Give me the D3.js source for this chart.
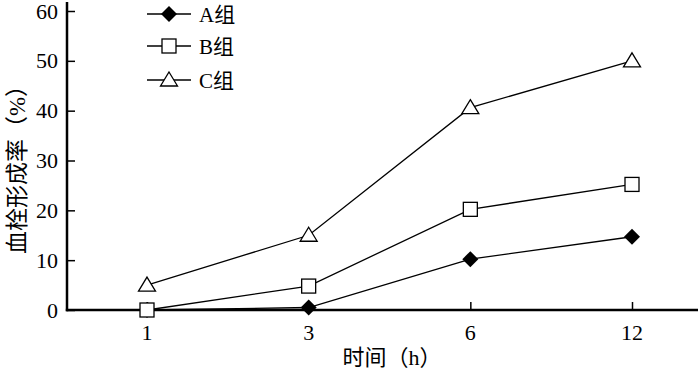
<!DOCTYPE html>
<html><head><meta charset="utf-8">
<script src="https://cdn.jsdelivr.net/npm/d3@7"></script>
<style>body{margin:0;background:#fff}svg{display:block}text{font-family:"Liberation Serif","Noto Sans CJK SC",serif;fill:#000}</style>
</head><body>
<svg id="c" width="700" height="373"></svg>
<script>
const categories = ["1","3","6","12"];
const seriesNames = ["A组","B组","C组"];
const seriesA = [0, 0.5, 10.2, 14.7];
const seriesB = [0, 4.8, 20.2, 25.2];
const seriesC = [5, 15, 40.6, 50];
const yTicks = [0,10,20,30,40,50,60];
const xTitle = "时间（h）";
const yTitle = "血栓形成率（%）";

const svg = d3.select("#c");
const x0 = 67, x1 = 698, yTop = 2, yBot = 310;
const x = d3.scalePoint().domain(categories).range([147, 632]);
const y = d3.scaleLinear().domain([0,60]).range([yBot, 11]);

// axes
const yAx = svg.append("g").attr("transform",`translate(${x0},0)`)
  .call(d3.axisRight(y).tickValues(yTicks).tickSize(8).tickFormat(""));
yAx.select(".domain").remove();
yAx.selectAll("line").attr("stroke","#000").attr("stroke-width",1.5);
svg.append("g").selectAll("text").data(yTicks).join("text")
  .attr("x", x0-9).attr("y", d=>y(d)+7.5).attr("text-anchor","end")
  .attr("font-size",22).text(d=>d);
svg.append("line").attr("x1",x0).attr("x2",x0).attr("y1",yTop).attr("y2",yBot+1.2)
  .attr("stroke","#000").attr("stroke-width",2.5);

const xAx = svg.append("g").attr("transform",`translate(0,${yBot})`)
  .call(d3.axisTop(x).tickSize(8).tickFormat(""));
xAx.select(".domain").remove();
xAx.selectAll("line").attr("stroke","#000").attr("stroke-width",1.5);
svg.append("g").selectAll("text").data(categories).join("text")
  .attr("x", d=>x(d)).attr("y", 340).attr("text-anchor","middle")
  .attr("font-size",22).text(d=>d);
svg.append("line").attr("x1",x0-1.2).attr("x2",x1).attr("y1",yBot).attr("y2",yBot)
  .attr("stroke","#000").attr("stroke-width",2.5);

svg.append("text").attr("x",392).attr("y",365).attr("text-anchor","middle")
  .attr("font-size",22).text(xTitle);
svg.append("text").attr("transform","translate(25,164) rotate(-90)")
  .attr("text-anchor","middle").attr("font-size",23).text(yTitle);

const data = [seriesA, seriesB, seriesC];
const line = d3.line().x((d,i)=>x(categories[i])).y(d=>y(d));

function marker(g, k, cx, cy){
  if(k===0){
    g.append("path").attr("d",`M${cx},${cy-8}L${cx+8},${cy}L${cx},${cy+8}L${cx-8},${cy}Z`)
      .attr("fill","#000");
  } else if(k===1){
    g.append("rect").attr("x",cx-7).attr("y",cy-7).attr("width",14).attr("height",14)
      .attr("fill","#fff").attr("stroke","#000").attr("stroke-width",1.3);
  } else {
    g.append("path").attr("d",`M${cx},${cy-8}L${cx+8.5},${cy+6}L${cx-8.5},${cy+6}Z`)
      .attr("fill","#fff").attr("stroke","#000").attr("stroke-width",1.3);
  }
}

data.forEach((s,k)=>{
  svg.append("path").datum(s).attr("d",line).attr("fill","none")
    .attr("stroke","#000").attr("stroke-width",1.3);
});
data.forEach((s,k)=>{
  const g = svg.append("g");
  s.forEach((v,i)=>marker(g,k,x(categories[i]),y(v)));
});

// legend
const legY = [14, 46, 80];
seriesNames.forEach((n,k)=>{
  const g = svg.append("g");
  g.append("line").attr("x1",147).attr("x2",191).attr("y1",legY[k]).attr("y2",legY[k])
    .attr("stroke","#000").attr("stroke-width",1.3);
  marker(g,k,169,legY[k]);
  g.append("text").attr("x",199).attr("y",legY[k]+7.5).attr("font-size",21).text(n);
});
</script>
</body></html>
